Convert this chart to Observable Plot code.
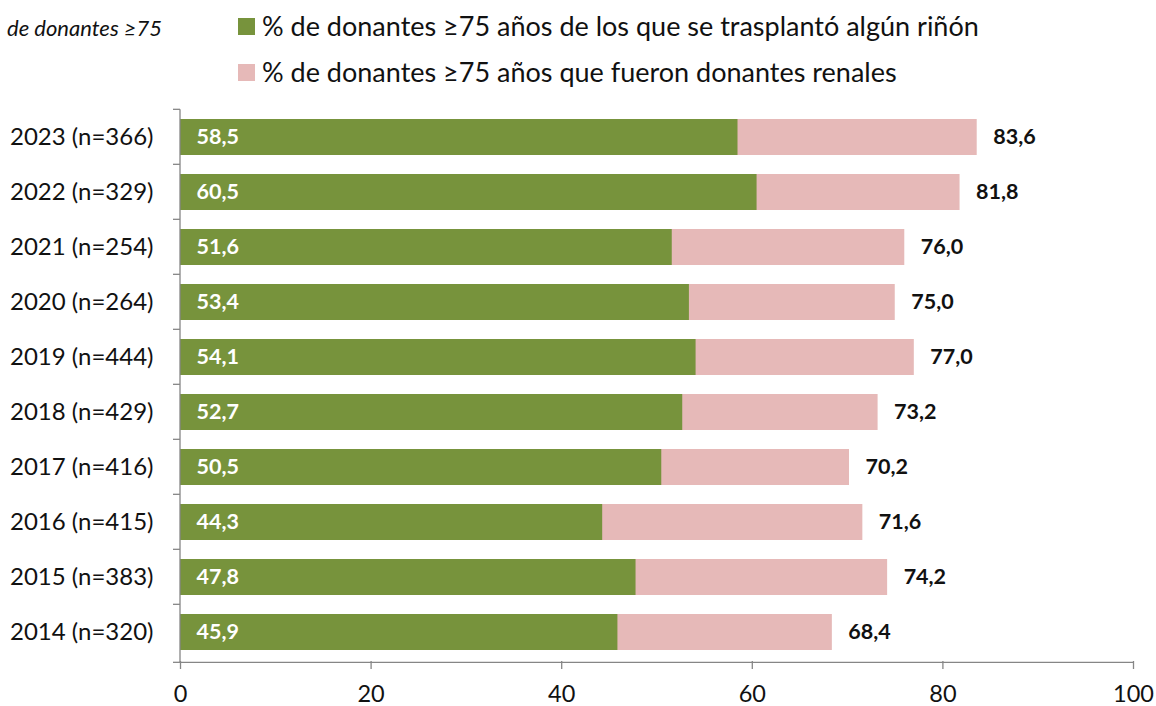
<!DOCTYPE html>
<html>
<head>
<meta charset="utf-8">
<script src="https://cdn.jsdelivr.net/npm/d3@7"></script>
<script src="https://cdn.jsdelivr.net/npm/@observablehq/plot@0.6"></script>
<style>
  body { margin: 0; background: #fff; font-family: Lato, "Open Sans", sans-serif; }
  #head { position: relative; width: 1156px; height: 95px; }
  #note { position: absolute; left: 7px; top: 14px; font-size: 22px; line-height: 28px; font-style: italic; color: #111; }
  .leg { position: absolute; left: 238px; display: flex; align-items: center; font-size: 27px; line-height: 32px; color: #111; white-space: nowrap; }
  .sw { width: 17px; height: 17px; margin-right: 7px; }
</style>
</head>
<body>
<div id="head">
  <div id="note">de donantes ≥75</div>
  <div class="leg" style="top:10px"><div class="sw" style="background:#77933C"></div>% de donantes ≥75 años de los que se trasplantó algún riñón</div>
  <div class="leg" style="top:56px"><div class="sw" style="background:#E6B9B8"></div>% de donantes ≥75 años que fueron donantes renales</div>
</div>
<div id="chart"></div>
<script>
const categories = ["2023 (n=366)","2022 (n=329)","2021 (n=254)","2020 (n=264)","2019 (n=444)","2018 (n=429)","2017 (n=416)","2016 (n=415)","2015 (n=383)","2014 (n=320)"];
const transplanted = [58.5, 60.5, 51.6, 53.4, 54.1, 52.7, 50.5, 44.3, 47.8, 45.9];
const renalDonors = [83.6, 81.8, 76.0, 75.0, 77.0, 73.2, 70.2, 71.6, 74.2, 68.4];
const xTicks = [0, 20, 40, 60, 80, 100];

const GREEN = "#77933C", PINK = "#E6B9B8", AXIS = "#868686";
const data = categories.map((c, i) => ({cat: c, green: transplanted[i], total: renalDonors[i]}));
const fmt = v => v.toFixed(1).replace(".", ",");
const PAD = 0.35;

const axisLines = (index, scales, values, dims) => {
  const g = d3.create("svg:g");
  const x = scales.x, y = scales.y;
  const n = categories.length;
  const step = (dims.height - dims.marginTop - dims.marginBottom) / n;
  const x0 = x(0);
  const top = y(categories[0]) - PAD * step / 2;
  const bottom = top + n * step;
  g.append("line").attr("x1", x0).attr("x2", x0).attr("y1", top).attr("y2", bottom).attr("stroke", AXIS).attr("stroke-width", 1.3);
  categories.forEach((c) => {
    const yy = y(c) - PAD * step / 2;
    g.append("line").attr("x1", x0 - 7).attr("x2", x0).attr("y1", yy).attr("y2", yy).attr("stroke", AXIS).attr("stroke-width", 1.3);
  });
  g.append("line").attr("x1", x0 - 7).attr("x2", x0).attr("y1", bottom).attr("y2", bottom).attr("stroke", AXIS).attr("stroke-width", 1.3);
  g.append("line").attr("x1", x0).attr("x2", x(100)).attr("y1", bottom).attr("y2", bottom).attr("stroke", AXIS).attr("stroke-width", 1.3);
  return g.node();
};

const chart = Plot.plot({
  width: 1156,
  height: 611,
  marginTop: 13,
  marginBottom: 45,
  marginLeft: 180,
  marginRight: 23,
  style: {fontFamily: "Lato, 'Open Sans', sans-serif", background: "#fff"},
  x: {domain: [0, 100], label: null},
  y: {domain: categories, paddingInner: PAD, paddingOuter: PAD / 2, label: null},
  marks: [
    Plot.barX(data, {y: "cat", x: "total", fill: PINK}),
    Plot.barX(data, {y: "cat", x: "green", fill: GREEN}),
    Plot.text(data, {y: "cat", x: 0, text: d => fmt(d.green), textAnchor: "start", dx: 16, fill: "#fff", fontWeight: "bold", fontSize: 21.5}),
    Plot.text(data, {y: "cat", x: "total", text: d => fmt(d.total), textAnchor: "start", dx: 16, fill: "#111", fontWeight: "bold", fontSize: 21.5}),
    Plot.axisY({tickSize: 0, tickPadding: 27, fontSize: 24, fill: "#111"}),
    Plot.axisX({ticks: xTicks, tickSize: 8, tickPadding: 16, fontSize: 23.5, stroke: AXIS, strokeWidth: 1.3, fill: "#111", tickFormat: d => d}),
    axisLines
  ]
});
document.getElementById("chart").appendChild(chart);
</script>
</body>
</html>
